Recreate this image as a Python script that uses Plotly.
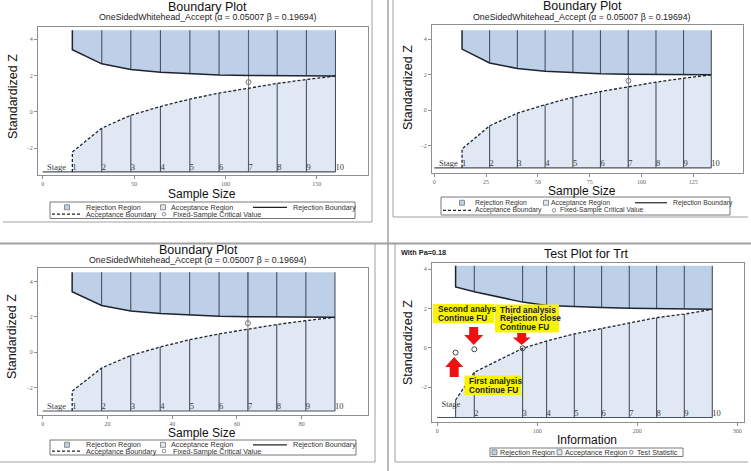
import plotly.graph_objects as go

# Canvas
W, H = 751, 471

# Colours / fonts
REJECT_FILL = '#bed0e8'
ACCEPT_FILL = '#e0e8f3'
STAGE_LINE = '#46525f'
BOUND_LINE = '#1f2430'
FRAME = '#8f8f8f'
BORDER = '#a0a0a0'
SANS = 'Liberation Sans, Arial, sans-serif'
SERIF = 'Liberation Serif, Times New Roman, serif'

# ---- Data ----
stage_text = ['1', '2', '3', '4', '5', '6', '7', '8', '9', '10']

# Sample size at each stage (three designs)
stages_tl = [16.2, 32.3, 48.2, 64.4, 80.5, 96.5, 112.6, 128.3, 144.3, 160.2]
stages_tr = [13.4, 26.7, 40.1, 53.5, 66.9, 80.2, 93.6, 107.0, 120.3, 133.7]
stages_bl = [9.1, 18.2, 27.2, 36.3, 45.4, 54.5, 63.4, 72.3, 81.3, 90.3]
fixed_tl = 112.6
fixed_tr = 93.7
fixed_bl = 63.4

# Standardized Z boundaries of the design
reject_z = [3.43, 2.65, 2.34, 2.19, 2.10, 2.04, 2.01, 1.99, 1.98, 1.98]
accept_z = [-2.20, -0.89, -0.18, 0.30, 0.71, 1.04, 1.32, 1.57, 1.79, 1.98]
critical_z = 1.645

# Test plot for Trt (information scale)
info_trt = [18.3, 37.0, 85.3, 109.3, 137.0, 164.3, 192.0, 219.3, 247.0, 275.0]
reject_trt = [3.09, 2.85, 2.32, 2.15, 2.08, 2.04, 2.01, 2.00, 1.98, 1.96]
accept_trt = [-2.66, -1.25, -0.03, 0.34, 0.70, 0.98, 1.27, 1.53, 1.71, 1.95]
stage_text_trt = ['', '2', '3', '4', '5', '6', '7', '8', '9', '10']
obs_info = [18.3, 37.0, 85.3]
obs_z = [-0.25, -0.08, -0.03]

subtitle = 'OneSidedWhitehead_Accept (\u03b1 = 0.05007 \u03b2 = 0.19694)'


def px(x):
    return x / W


def py(y):
    return 1 - y / H


def add_text(fig, x, y, text, size, color='#111', family=SANS, xanchor='center', angle=0):
    fig.add_annotation(x=px(x), y=py(y), xref='paper', yref='paper', text=text,
                       showarrow=False, xanchor=xanchor, yanchor='middle', textangle=angle,
                       borderpad=0, font=dict(family=family, size=size, color=color))


def add_line(fig, x0, y0, x1, y1, color=BORDER, width=1, dash='solid'):
    fig.add_shape(type='line', xref='paper', yref='paper', x0=px(x0), y0=py(y0),
                  x1=px(x1), y1=py(y1), line=dict(color=color, width=width, dash=dash))


def add_rect(fig, x0, y0, x1, y1, fill, color='#666', width=0.8):
    fig.add_shape(type='rect', xref='paper', yref='paper', x0=px(x0), y0=py(y0),
                  x1=px(x1), y1=py(y1), fillcolor=fill, line=dict(color=color, width=width))


def axis_style(x0, x1, rng, tickvals, vertical=False):
    domain = [py(x1), py(x0)] if vertical else [px(x0), px(x1)]
    return dict(domain=domain, range=rng, tickvals=tickvals, showgrid=False, zeroline=False,
                showline=True, mirror=True, linecolor=FRAME, linewidth=1,
                ticks='outside', ticklen=3, tickcolor=FRAME,
                tickfont=dict(family=SERIF, size=6, color='#666'), fixedrange=True)


def add_boundary_panel(fig, ax, stages, upper, lower, top, bottom, label_z, labels,
                       stage_word, fixed=None, solid_first=False):
    xa, ya = 'x' + ax, 'y' + ax
    n = len(stages)

    # Rejection region
    fig.add_trace(go.Scatter(x=stages + stages[::-1], y=upper + [top] * n, xaxis=xa, yaxis=ya,
                             fill='toself', fillcolor=REJECT_FILL, mode='lines',
                             line=dict(width=0), hoverinfo='skip', showlegend=False))
    # Acceptance region
    fig.add_trace(go.Scatter(x=[stages[0]] + stages + [stages[-1]], y=[bottom] + lower + [bottom],
                             xaxis=xa, yaxis=ya, fill='toself', fillcolor=ACCEPT_FILL,
                             mode='lines', line=dict(width=0), hoverinfo='skip', showlegend=False))

    # Stage separators and base line
    xs, ys = [0, stages[-1], None], [bottom, bottom, None]
    for k, (s, lo, up) in enumerate(zip(stages, lower, upper)):
        if k > 0 or solid_first:
            xs += [s, s, None]
            ys += [bottom, lo, None]
        if k > 0:
            xs += [s, s, None]
            ys += [up, top, None]
    fig.add_trace(go.Scatter(x=xs, y=ys, xaxis=xa, yaxis=ya, mode='lines',
                             line=dict(color=STAGE_LINE, width=1.1), hoverinfo='skip', showlegend=False))

    # Fixed-sample reference
    if fixed is not None:
        fig.add_trace(go.Scatter(x=[fixed, fixed], y=[bottom, top], xaxis=xa, yaxis=ya, mode='lines',
                                 line=dict(color='#5a6470', width=0.8), hoverinfo='skip', showlegend=False))
        fig.add_trace(go.Scatter(x=[fixed], y=[critical_z], xaxis=xa, yaxis=ya, mode='markers',
                                 marker=dict(symbol='circle-open', size=5, color='#777', line=dict(width=1)),
                                 hoverinfo='skip', showlegend=False))

    # Boundaries
    fig.add_trace(go.Scatter(x=[stages[0]] + stages, y=[top] + upper, xaxis=xa, yaxis=ya, mode='lines',
                             line=dict(color=BOUND_LINE, width=1.5), hoverinfo='skip', showlegend=False))
    if solid_first:
        ax_x, ax_y = stages, lower
    else:
        ax_x, ax_y = [stages[0]] + stages, [bottom] + lower
    fig.add_trace(go.Scatter(x=ax_x, y=ax_y, xaxis=xa, yaxis=ya, mode='lines',
                             line=dict(color=BOUND_LINE, width=1.3, dash='3px,2px'),
                             hoverinfo='skip', showlegend=False))

    # Stage numbers
    fig.add_trace(go.Scatter(x=stages, y=[label_z] * n, xaxis=xa, yaxis=ya, mode='text',
                             text=labels, textposition='middle right',
                             textfont=dict(family=SERIF, size=8.5, color='#3a3a3a'),
                             hoverinfo='skip', showlegend=False))
    fig.add_trace(go.Scatter(x=[stage_word[0]], y=[stage_word[1]], xaxis=xa, yaxis=ya, mode='text',
                             text=['Stage'], textposition='middle left',
                             textfont=dict(family=SERIF, size=8.5, color='#3a3a3a'),
                             hoverinfo='skip', showlegend=False))


def add_boundary_legend(fig, x0, y0, w, h, pos, size):
    r1, r2 = y0 + h * 0.32, y0 + h * 0.74
    add_rect(fig, x0, y0, x0 + w, y0 + h, 'rgba(0,0,0,0)', color='#555', width=0.8)
    for key, fill in (('sq1', REJECT_FILL), ('sq2', ACCEPT_FILL)):
        c = x0 + pos[key]
        add_rect(fig, c - 2.5, r1 - 2.5, c + 2.5, r1 + 2.5, fill, color='#777', width=0.8)
    add_text(fig, x0 + pos['t1'], r1, 'Rejection Region', size, '#333', xanchor='left')
    add_text(fig, x0 + pos['t2'], r1, 'Acceptance Region', size, '#333', xanchor='left')
    add_line(fig, x0 + pos['l0'], r1, x0 + pos['l1'], r1, color='#222', width=1.2)
    add_text(fig, x0 + pos['t3'], r1, 'Rejection Boundary', size, '#333', xanchor='left')
    add_line(fig, x0 + pos['d0'], r2, x0 + pos['d1'], r2, color='#222', width=1.2, dash='3px,2px')
    add_text(fig, x0 + pos['t4'], r2, 'Acceptance Boundary', size, '#333', xanchor='left')
    c = x0 + pos['o']
    fig.add_shape(type='circle', xref='paper', yref='paper', x0=px(c - 1.8), x1=px(c + 1.8),
                  y0=py(r2 + 1.8), y1=py(r2 - 1.8), line=dict(color='#777', width=0.8))
    add_text(fig, x0 + pos['t5'], r2, 'Fixed-Sample Critical Value', size, '#333', xanchor='left')


def add_arrow(fig, cx, tip, tail, head_len, head_hw, shaft_hw):
    d = 1 if tail > tip else -1
    base = tip + d * head_len
    path = (f'M {px(cx)} {py(tip)} L {px(cx + head_hw)} {py(base)} L {px(cx + shaft_hw)} {py(base)} '
            f'L {px(cx + shaft_hw)} {py(tail)} L {px(cx - shaft_hw)} {py(tail)} '
            f'L {px(cx - shaft_hw)} {py(base)} L {px(cx - head_hw)} {py(base)} Z')
    fig.add_shape(type='path', xref='paper', yref='paper', path=path,
                  fillcolor='#ee1111', line=dict(width=0))


def add_note(fig, x0, y0, x1, y1, lines, line_y):
    add_rect(fig, x0, y0, x1, y1, '#f8f400', color='#f8f400', width=0)
    for txt, ly in zip(lines, line_y):
        add_text(fig, x0 + 3.5, ly, '<b>' + txt + '</b>', 8.3, '#222', xanchor='left')


fig = go.Figure()

# Panels
add_boundary_panel(fig, '', stages_tl, reject_z, accept_z, 4.5, -3.3, -3.06, stage_text,
                   (12.7, -3.06), fixed=fixed_tl)
add_boundary_panel(fig, '2', stages_tr, reject_z, accept_z, 4.5, -3.26, -3.03, stage_text,
                   (11.4, -3.03), fixed=fixed_tr)
add_boundary_panel(fig, '3', stages_bl, reject_z, accept_z, 4.53, -3.32, -3.08, stage_text,
                   (7.2, -3.08), fixed=fixed_bl)
add_boundary_panel(fig, '4', info_trt, reject_trt, accept_trt, 4.17, -3.55, -3.37, stage_text_trt,
                   (23, -2.9), solid_first=True)

# Test statistics
fig.add_trace(go.Scatter(x=obs_info, y=obs_z, xaxis='x4', yaxis='y4', mode='markers',
                         marker=dict(symbol='circle-open', size=5, color='#444', line=dict(width=1)),
                         hoverinfo='skip', showlegend=False))

fig.update_layout(
    width=W, height=H, margin=dict(l=0, r=0, t=0, b=0),
    paper_bgcolor='white', plot_bgcolor='white', showlegend=False,
    xaxis=axis_style(38, 368, [-2.6, 178], [0, 50, 100, 150]),
    yaxis=axis_style(27, 175, [-3.47, 4.68], [-2, 0, 2, 4], vertical=True),
    xaxis2=axis_style(432, 743, [-1.1, 149.0], [0, 25, 50, 75, 100, 125]),
    yaxis2=axis_style(25, 173, [-3.55, 4.79], [-2, 0, 2, 4], vertical=True),
    xaxis3=axis_style(38, 368, [-1.45, 100.5], [0, 20, 40, 60, 80]),
    yaxis3=axis_style(268, 415, [-3.55, 4.77], [-2, 0, 2, 4], vertical=True),
    xaxis4=axis_style(432, 744, [-5.3, 306.7], [0, 100, 200, 300]),
    yaxis4=axis_style(263, 422, [-3.78, 4.31], [-2, 0, 2, 4], vertical=True),
)
for i in ['', '2', '3', '4']:
    fig.layout['xaxis' + i].anchor = 'y' + i
    fig.layout['yaxis' + i].anchor = 'x' + i

# Titles
for cx, ty, sy in ((208, 7.5, 17.5), (582, 6.5, 17), (198, 249.5, 259.5)):
    add_text(fig, cx, ty, 'Boundary Plot', 12.5)
    add_text(fig, cx, sy, subtitle, 8.8, '#222')
add_text(fig, 586, 254, 'Test Plot for Trt', 12.5)
add_text(fig, 400, 252, '<b>With Pa=0.18</b>', 7.3, '#222', xanchor='left')

# Axis titles
for x, y in ((13, 97), (408, 88), (12, 337), (408, 343)):
    add_text(fig, x, y, 'Standardized Z', 12.5, angle=-90)
for x, y in ((202, 193.5), (582, 190.5), (202, 433)):
    add_text(fig, x, y, 'Sample Size', 12)
add_text(fig, 587, 439.5, 'Information', 12)

# Legends
pos_a = dict(sq1=17, t1=35, sq2=113, t2=120, l0=203, l1=237, t3=242, d0=2, d1=30, t4=35, o=114, t5=122)
pos_b = dict(sq1=21, t1=33, sq2=105, t2=109, l0=194, l1=226, t3=231, d0=2, d1=31, t4=33, o=113, t5=118)
add_boundary_legend(fig, 50, 202, 305, 16.5, pos_a, 7.2)
add_boundary_legend(fig, 441, 197, 289, 18, pos_b, 6.8)
add_boundary_legend(fig, 50, 440, 306, 15, pos_a, 7.2)

# Test plot legend
add_rect(fig, 490, 448, 683, 456.5, 'rgba(0,0,0,0)', color='#555', width=0.8)
add_rect(fig, 492, 449.8, 497, 454.8, REJECT_FILL, color='#777')
add_text(fig, 499, 452.3, 'Rejection Region', 7.2, '#333', xanchor='left')
add_rect(fig, 557, 449.8, 562, 454.8, ACCEPT_FILL, color='#777')
add_text(fig, 564, 452.3, 'Acceptance Region', 7.2, '#333', xanchor='left')
fig.add_shape(type='circle', xref='paper', yref='paper', x0=px(629.5), x1=px(633.1),
              y0=py(454.1), y1=py(450.5), line=dict(color='#555', width=0.8))
add_text(fig, 636, 452.3, 'Test Statistic', 7.2, '#333', xanchor='left')

# Notes on the test plot
add_note(fig, 433, 304, 494, 323, ['Second analys', 'Continue FU'], [309, 318])
add_note(fig, 495, 304.5, 559, 332.5, ['Third analysis', 'Rejection close', 'Continue FU'], [309.5, 318, 326.5])
add_note(fig, 464.5, 375.5, 521, 395, ['First analysis', 'Continue FU'], [380.5, 389.5])
add_arrow(fig, 454.2, 357, 377, 10, 9, 4.5)
add_arrow(fig, 473.7, 345, 327, 10, 9.5, 4.5)
add_arrow(fig, 521.7, 345, 333, 7.5, 9, 4.5)

# Panel borders
add_line(fig, 372, 0, 372, 222)
add_line(fig, 3, 222, 372, 222)
add_line(fig, 388, 0, 388, 471, width=1.5)
add_line(fig, 0, 243.5, 751, 243.5, width=2)
add_line(fig, 393, 0, 393, 217)
add_line(fig, 393, 217, 748, 217)
add_line(fig, 375, 243, 375, 462)
add_line(fig, 0, 462, 375, 462)
add_line(fig, 395, 244, 395, 462)
add_line(fig, 395, 462, 748, 462)

fig.write_html("out.html", config={'displayModeBar': False},
               post_script="document.body.style.margin = '0px';")
